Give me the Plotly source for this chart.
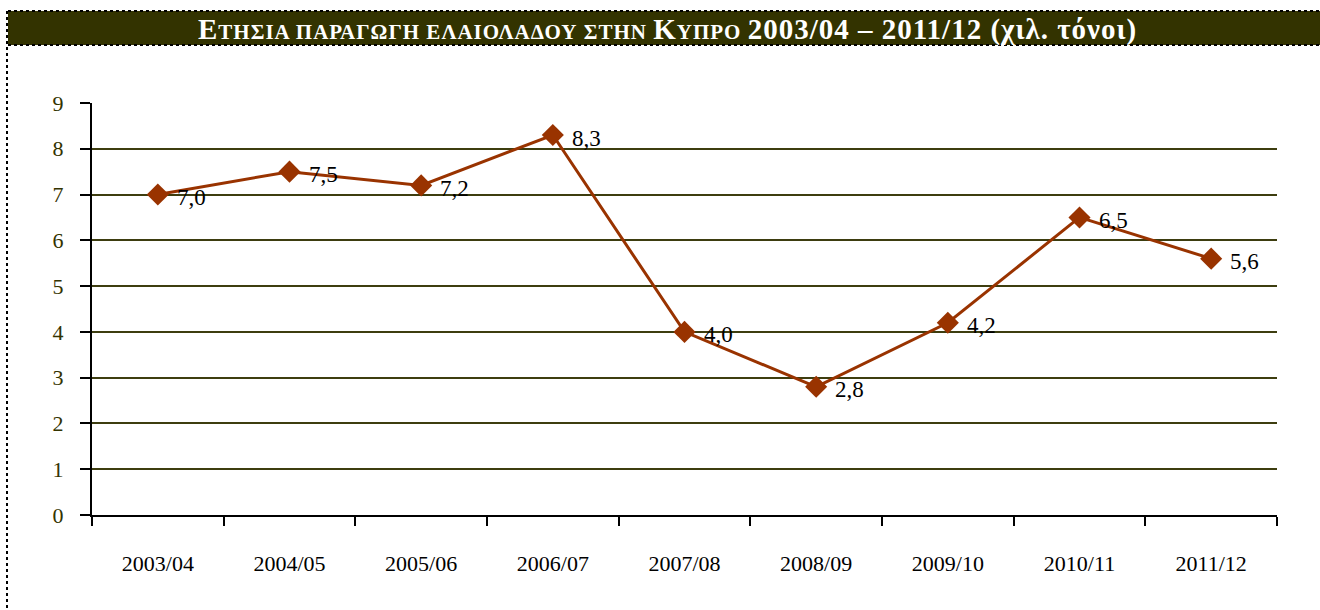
import plotly.graph_objects as go

seasons = ["2003/04", "2004/05", "2005/06", "2006/07", "2007/08",
           "2008/09", "2009/10", "2010/11", "2011/12"]
production = [7.0, 7.5, 7.2, 8.3, 4.0, 2.8, 4.2, 6.5, 5.6]
y_ticks = [0, 1, 2, 3, 4, 5, 6, 7, 8, 9]

W, H = 1320, 610
L, R, T, B = 92, 1277, 103, 515

def px(x):
    return (x - L) / (R - L)

def py(y):
    return (B - y) / (B - T)

labels = [f"{v:.1f}".replace(".", ",") for v in production]

fig = go.Figure()
fig.add_trace(go.Scatter(
    x=seasons, y=production, mode="lines+markers",
    line=dict(color="#993300", width=3),
    marker=dict(symbol="diamond", size=17, color="#993300"),
    cliponaxis=False, hoverinfo="skip",
))

annotations = []
for s, v, t in zip(seasons, production, labels):
    annotations.append(dict(
        x=s, y=v, xref="x", yref="y", text=t, showarrow=False,
        xanchor="left", yanchor="middle", xshift=17, yshift=-3,
        font=dict(family="Liberation Serif", size=23, color="#000000"),
    ))

ls = 'letter-spacing:1px;'
big = ls + 'font-size:29px'
small = ls + 'font-size:21px'
title_html = (f'<span style="{big}">Ε</span><span style="{small}">ΤΗΣΙΑ ΠΑΡΑΓΩΓΗ ΕΛΑΙΟΛΑΔΟΥ ΣΤΗΝ </span>'
              f'<span style="{big}">Κ</span><span style="{small}">ΥΠΡΟ </span>'
              f'<span style="{big}">2003/04 – 2011/12 (χιλ. τόνοι)</span>')

annotations.append(dict(
    text="<b>" + title_html + "</b>", xref="paper", yref="paper",
    x=px(667), y=py(29), xanchor="center", yanchor="middle", showarrow=False,
    font=dict(family="Liberation Serif", size=29, color="#ffffff"),
))

shapes = [
    dict(type="rect", xref="paper", yref="paper", x0=px(8), x1=px(1320), y0=py(45), y1=py(11),
         fillcolor="#333300", line=dict(width=0), layer="below"),
    dict(type="line", xref="paper", yref="paper", x0=px(8), x1=px(1320), y0=py(11), y1=py(11),
         line=dict(color="#000000", width=2, dash="dot")),
    dict(type="line", xref="paper", yref="paper", x0=px(8), x1=px(1320), y0=py(45), y1=py(45),
         line=dict(color="#000000", width=2, dash="dot")),
    dict(type="line", xref="paper", yref="paper", x0=px(7), x1=px(7), y0=py(11), y1=py(610),
         line=dict(color="#000000", width=2, dash="dot")),
]

fig.update_layout(
    width=W, height=H,
    margin=dict(l=L, r=W - R, t=T, b=H - B),
    paper_bgcolor="#ffffff", plot_bgcolor="#ffffff",
    showlegend=False,
    shapes=shapes,
    annotations=annotations,
    xaxis=dict(
        type="category", range=[-0.5, 8.5],
        showline=True, linecolor="#000000", linewidth=2,
        ticks="outside", tickson="boundaries", ticklen=9, tickwidth=2, tickcolor="#000000",
        showgrid=False, zeroline=False,
        tickfont=dict(family="Liberation Serif", size=22, color="#000000"),
        ticklabelstandoff=28,
    ),
    yaxis=dict(
        range=[0, 9], tickvals=y_ticks,
        showline=True, linecolor="#000000", linewidth=2,
        ticks="outside", ticklen=10, tickwidth=2, tickcolor="#000000",
        showgrid=True, gridcolor="#3d3d0f", gridwidth=1.6,
        zeroline=False,
        tickfont=dict(family="Liberation Serif", size=22, color="#333300"),
        ticklabelstandoff=12,
    ),
)

fig.write_html("out.html", config={"displayModeBar": False},
               post_script="document.body.style.margin='0';")
